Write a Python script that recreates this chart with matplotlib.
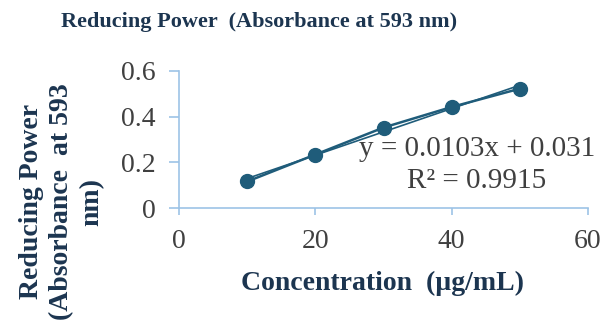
import numpy as np
import matplotlib.pyplot as plt

# data
concentration = [10, 20, 30, 40, 50]
absorbance = [0.116, 0.234, 0.352, 0.442, 0.522]
x_ticks = [0, 20, 40, 60]
y_ticks = [0, 0.2, 0.4, 0.6]
y_tick_labels = ['0', '0.2', '0.4', '0.6']
equation_text = 'y = 0.0103x + 0.031\nR² = 0.9915'

plt.rcParams['font.family'] = ['Liberation Serif', 'DejaVu Serif']

point_color = '#1F5C7A'
spine_color = '#9DC3E6'
text_color = '#404040'
title_color = '#1C3550'

fig = plt.figure(figsize=(6.05, 3.22), dpi=100)
ax = fig.add_axes([0.296, 0.354, 0.676, 0.426])

# series line + markers
ax.plot(concentration, absorbance, color=point_color, linewidth=1.8,
        marker='o', markersize=10, zorder=3)

# linear trendline
slope, intercept = np.polyfit(concentration, absorbance, 1)
xs = np.array([concentration[0], concentration[-1]])
ax.plot(xs, slope * xs + intercept, color=point_color, linewidth=1.2, zorder=2)

ax.set_xlim(0, 60)
ax.set_ylim(0, 0.6)
ax.set_xticks(x_ticks)
ax.set_yticks(y_ticks)
ax.set_yticklabels(y_tick_labels)

for side in ['top', 'right']:
    ax.spines[side].set_visible(False)
for side in ['left', 'bottom']:
    ax.spines[side].set_color(spine_color)
    ax.spines[side].set_linewidth(1.2)
ax.tick_params(axis='both', colors=spine_color, labelcolor=text_color,
               labelsize=20, width=1.2, direction='out')
ax.tick_params(axis='x', length=5, pad=10)
ax.tick_params(axis='y', length=7, pad=10)

ax.text(1.017, 0.31, equation_text, transform=ax.transAxes, ha='right',
        va='center', fontsize=21, color=text_color, multialignment='center',
        linespacing=1.3, clip_on=False)

fig.text(0.428, 0.932, 'Reducing Power  (Absorbance at 593 nm)', ha='center',
         va='center', fontsize=16, fontweight='bold', color=title_color)
fig.text(0.633, 0.121, 'Concentration  (µg/mL)', ha='center', va='center',
         fontsize=20, fontweight='bold', color=title_color)
fig.text(0.102, 0.373, 'Reducing Power\n(Absorbance  at 593\nnm)', rotation=90,
         ha='center', va='center', fontsize=20, fontweight='bold',
         color=title_color, linespacing=1.25, multialignment='center')

fig.savefig('out.png', dpi=100)
